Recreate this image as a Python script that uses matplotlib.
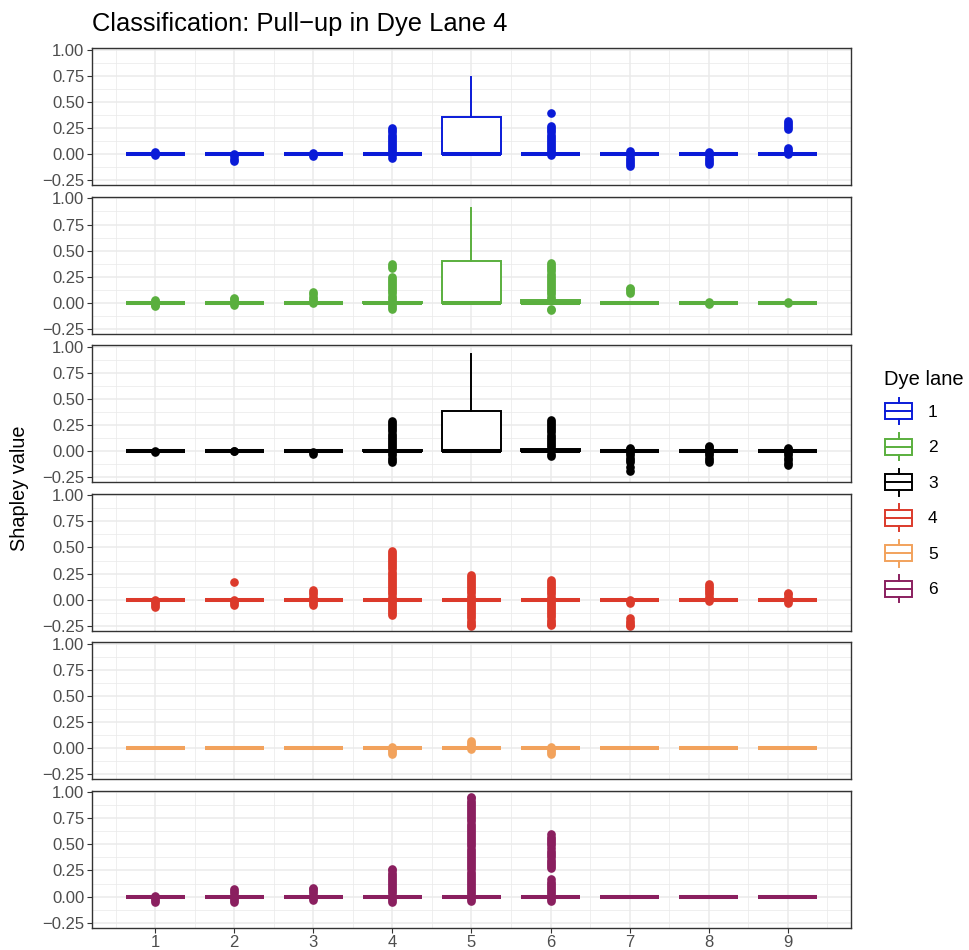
import matplotlib.pyplot as plt
from matplotlib.patches import Rectangle
from matplotlib.lines import Line2D
from matplotlib.legend_handler import HandlerBase

plt.rcParams['font.family'] = ['Liberation Sans', 'DejaVu Sans']

features = [1, 2, 3, 4, 5, 6, 7, 8, 9]
lanes = ['1', '2', '3', '4', '5', '6']
lane_colors = ['#0A1BD8', '#5AAF3E', '#000000', '#DC3A2B', '#F2A25C', '#8A1F5F']

# box stats: q1, median and lower whisker are 0 for every box
q1_all = [0, 0, 0, 0, 0, 0, 0, 0, 0]
median_all = [0, 0, 0, 0, 0, 0, 0, 0, 0]

# dye lane 1
lane1_q3 = [0, 0, 0, 0, 0.36, 0, 0, 0, 0]
lane1_top = [0, 0, 0, 0, 0.74, 0, 0, 0, 0]
lane1_out = [
    [-0.01, 0.0, 0.01, 0.02],
    [-0.06, -0.04, -0.02, 0.0],
    [-0.02, 0.0, 0.01],
    [-0.035, -0.01, 0.01, 0.03, 0.05, 0.07, 0.09, 0.11, 0.13, 0.15, 0.17, 0.19, 0.21, 0.23, 0.255],
    [],
    [-0.01, 0.01, 0.03, 0.05, 0.07, 0.09, 0.11, 0.13, 0.15, 0.17, 0.19, 0.21, 0.23, 0.25, 0.27, 0.40],
    [-0.11, -0.09, -0.07, -0.05, -0.03, -0.01, 0.01, 0.03],
    [-0.09, -0.07, -0.05, -0.03, -0.01, 0.01, 0.02],
    [0.0, 0.02, 0.04, 0.06, 0.24, 0.26, 0.28, 0.30, 0.32],
]

# dye lane 2
lane2_q3 = [0, 0, 0, 0.012, 0.40, 0.025, 0, 0, 0]
lane2_top = [0, 0, 0, 0.012, 0.91, 0.025, 0, 0, 0]
lane2_out = [
    [-0.035, -0.02, 0.0, 0.015, 0.025],
    [-0.02, 0.0, 0.02, 0.04, 0.05],
    [0.0, 0.02, 0.04, 0.06, 0.08, 0.10],
    [-0.06, -0.04, -0.02, 0.03, 0.05, 0.07, 0.09, 0.11, 0.13, 0.15, 0.17, 0.19, 0.21, 0.23, 0.25,
     0.33, 0.35, 0.37],
    [],
    [-0.07, -0.055, 0.04, 0.06, 0.08, 0.10, 0.12, 0.14, 0.16, 0.18, 0.20, 0.22, 0.24, 0.26, 0.28,
     0.30, 0.32, 0.34, 0.36, 0.38],
    [0.09, 0.11, 0.13, 0.14],
    [-0.01, 0.0, 0.01],
    [0.0, 0.01],
]

# dye lane 3
lane3_q3 = [0, 0, 0, 0.01, 0.39, 0.02, 0, 0, 0]
lane3_top = [0, 0, 0, 0.01, 0.93, 0.02, 0, 0, 0]
lane3_out = [
    [-0.005, 0.005],
    [0.0, 0.005],
    [-0.03, -0.01],
    [-0.10, -0.08, -0.06, -0.04, -0.02, 0.03, 0.05, 0.07, 0.09, 0.11, 0.13, 0.15, 0.17, 0.19,
     0.21, 0.23, 0.25, 0.27, 0.29],
    [],
    [-0.05, -0.03, 0.04, 0.06, 0.08, 0.10, 0.12, 0.14, 0.16, 0.18, 0.20, 0.22, 0.24, 0.26, 0.28, 0.30],
    [-0.19, -0.15, -0.10, -0.08, -0.06, -0.04, -0.02, 0.0, 0.02, 0.03],
    [-0.10, -0.08, -0.06, -0.04, -0.02, 0.0, 0.02, 0.04, 0.05],
    [-0.13, -0.11, -0.08, -0.06, -0.04, -0.02, 0.0, 0.02, 0.03],
]

# dye lane 4
lane4_q3 = [0, 0, 0, 0, 0, 0, 0, 0, 0]
lane4_top = [0, 0, 0, 0, 0, 0, 0, 0, 0]
lane4_out = [
    [-0.07, -0.05, -0.03, -0.01, 0.0],
    [-0.05, -0.03, -0.01, 0.0, 0.17],
    [-0.05, -0.03, -0.01, 0.01, 0.03, 0.05, 0.07, 0.09],
    [-0.15, -0.13, -0.11, -0.09, -0.07, -0.05, -0.03, -0.01, 0.01, 0.03, 0.05, 0.07, 0.09, 0.11,
     0.13, 0.15, 0.17, 0.19, 0.21, 0.23, 0.25, 0.27, 0.29, 0.31, 0.33, 0.35, 0.37, 0.39, 0.41,
     0.43, 0.45, 0.47],
    [-0.255, -0.24, -0.22, -0.20, -0.18, -0.16, -0.14, -0.12, -0.10, -0.08, -0.06, -0.04, -0.02,
     0.0, 0.02, 0.04, 0.06, 0.08, 0.10, 0.12, 0.14, 0.16, 0.18, 0.20, 0.22, 0.235],
    [-0.245, -0.23, -0.21, -0.19, -0.17, -0.15, -0.13, -0.11, -0.09, -0.07, -0.05, -0.03, -0.01,
     0.01, 0.03, 0.05, 0.07, 0.09, 0.11, 0.13, 0.15, 0.17, 0.19],
    [-0.255, -0.24, -0.22, -0.20, -0.18, -0.03, -0.01, 0.0],
    [-0.01, 0.01, 0.03, 0.05, 0.07, 0.09, 0.11, 0.13, 0.15],
    [-0.03, -0.01, 0.01, 0.03, 0.05, 0.06],
]

# dye lane 5
lane5_q3 = [0, 0, 0, 0, 0, 0, 0, 0, 0]
lane5_top = [0, 0, 0, 0, 0, 0, 0, 0, 0]
lane5_out = [
    [], [], [],
    [-0.06, -0.04, -0.02, 0.0, 0.01],
    [-0.01, 0.01, 0.03, 0.05, 0.07],
    [-0.06, -0.04, -0.02, 0.0, 0.01],
    [], [], [],
]

# dye lane 6
lane6_q3 = [0, 0, 0, 0, 0, 0, 0, 0, 0]
lane6_top = [0, 0, 0, 0, 0, 0, 0, 0, 0]
lane6_out = [
    [-0.05, -0.03, -0.01, 0.01],
    [-0.05, -0.03, -0.01, 0.01, 0.03, 0.05, 0.07],
    [-0.03, -0.01, 0.01, 0.03, 0.05, 0.07, 0.08],
    [-0.05, -0.03, -0.01, 0.01, 0.03, 0.05, 0.07, 0.09, 0.11, 0.13, 0.15, 0.17, 0.19, 0.21,
     0.23, 0.25, 0.26],
    [-0.04, -0.02, 0.0, 0.02, 0.04, 0.06, 0.08, 0.10, 0.12, 0.14, 0.16, 0.18, 0.20, 0.22, 0.24,
     0.26, 0.28, 0.30, 0.32, 0.34, 0.36, 0.38, 0.40, 0.42, 0.44, 0.46, 0.48, 0.50, 0.52, 0.54,
     0.56, 0.58, 0.60, 0.62, 0.64, 0.66, 0.68, 0.70, 0.72, 0.74, 0.76, 0.78, 0.80, 0.82, 0.84,
     0.86, 0.88, 0.90, 0.92, 0.94, 0.95],
    [-0.04, -0.02, 0.0, 0.02, 0.04, 0.06, 0.08, 0.10, 0.12, 0.14, 0.165,
     0.27, 0.29, 0.31, 0.33, 0.35, 0.38, 0.40, 0.42, 0.44, 0.47, 0.49, 0.51, 0.53, 0.55, 0.57, 0.60],
    [], [], [],
]

q3_by_lane = [lane1_q3, lane2_q3, lane3_q3, lane4_q3, lane5_q3, lane6_q3]
top_by_lane = [lane1_top, lane2_top, lane3_top, lane4_top, lane5_top, lane6_top]
out_by_lane = [lane1_out, lane2_out, lane3_out, lane4_out, lane5_out, lane6_out]


class BoxHandler(HandlerBase):
    # draws a little boxplot glyph in the legend like ggplot does
    def create_artists(self, legend, orig_handle, xdescent, ydescent, width, height, fontsize, trans):
        c = orig_handle.get_color()
        x0 = -xdescent + 0.05 * width
        x1 = -xdescent + 0.95 * width
        xm = -xdescent + 0.5 * width
        y0 = -ydescent
        b0 = y0 + 0.2 * height
        b1 = y0 + 0.8 * height
        ym = y0 + 0.5 * height
        rect = Rectangle((x0, b0), x1 - x0, b1 - b0, facecolor='white', edgecolor=c, linewidth=1.4, transform=trans)
        mid = Line2D([x0, x1], [ym, ym], color=c, linewidth=1.4, transform=trans)
        w1 = Line2D([xm, xm], [y0, b0], color=c, linewidth=1.4, transform=trans)
        w2 = Line2D([xm, xm], [b1, y0 + height], color=c, linewidth=1.4, transform=trans)
        return [rect, mid, w1, w2]


fig = plt.figure(figsize=(9.7, 9.5), dpi=100)
gs = fig.add_gridspec(6, 1, left=92 / 970, right=851 / 970, top=1 - 48.3 / 950, bottom=1 - 927.7 / 950, hspace=0.082)

yticks = [-0.25, 0.0, 0.25, 0.5, 0.75, 1.0]
ylabels = ['\u22120.25', '0.00', '0.25', '0.50', '0.75', '1.00']

for i in range(6):
    ax = fig.add_subplot(gs[i, 0])
    c = lane_colors[i]
    stats = []
    for j in range(9):
        stats.append(dict(med=median_all[j], q1=q1_all[j], q3=q3_by_lane[i][j],
                          whislo=q1_all[j], whishi=top_by_lane[i][j], fliers=out_by_lane[i][j]))
    ax.bxp(stats, positions=features, widths=0.75, showcaps=False, patch_artist=True,
           boxprops=dict(facecolor='white', edgecolor=c, linewidth=1.4),
           medianprops=dict(color=c, linewidth=2.9, solid_capstyle='butt'),
           whiskerprops=dict(color=c, linewidth=1.4),
           flierprops=dict(marker='o', markerfacecolor=c, markeredgecolor=c, markersize=5.2, linestyle='none'))
    ax.set_xlim(0.2, 9.8)
    ax.set_ylim(-0.298, 1.016)
    ax.set_yticks(yticks)
    ax.set_yticklabels(ylabels)
    ax.set_yticks([-0.125, 0.125, 0.375, 0.625, 0.875], minor=True)
    ax.set_xticks(features)
    ax.set_xticks([0.5, 1.5, 2.5, 3.5, 4.5, 5.5, 6.5, 7.5, 8.5, 9.5], minor=True)
    ax.grid(True, which='major', color='#EBEBEB', linewidth=1.1)
    ax.grid(True, which='minor', color='#EBEBEB', linewidth=0.55)
    ax.set_axisbelow(True)
    for s in ax.spines.values():
        s.set_color('#333333')
        s.set_linewidth(1.0)
    ax.tick_params(axis='y', which='major', length=3.5, width=0.8, color='#333333', labelsize=12, labelcolor='#4D4D4D', pad=2)
    ax.tick_params(which='minor', length=0)
    if i < 5:
        ax.tick_params(axis='x', which='major', length=0, labelbottom=False)
    else:
        ax.set_xticklabels([str(f) for f in features])
        ax.tick_params(axis='x', which='major', length=3.5, width=0.8, color='#333333', labelsize=12, labelcolor='#4D4D4D', pad=2)

fig.text(92 / 970, 1 - 24 / 950, 'Classification: Pull\u2212up in Dye Lane 4', fontsize=18.4, ha='left', va='center')
fig.text(20 / 970, 1 - 488 / 950, 'Shapley value', fontsize=14.3, rotation=90, ha='center', va='center')

handles = [Line2D([], [], color=c) for c in lane_colors]
leg = fig.legend(handles, lanes, title='Dye lane', loc='center left', bbox_to_anchor=(868 / 970, 1 - 486 / 950),
                 handler_map={Line2D: BoxHandler()}, frameon=False, fontsize=12.5, title_fontsize=14.5,
                 handlelength=1.75, handleheight=2.0, labelspacing=0.5, handletextpad=0.8, alignment='left')

plt.savefig('out.png', dpi=100)
